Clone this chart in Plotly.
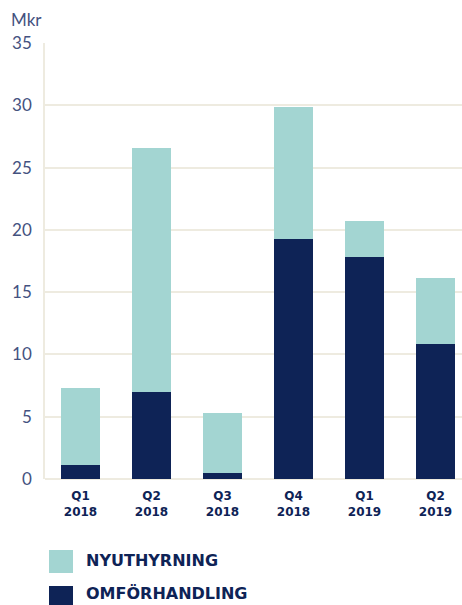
import plotly.graph_objects as go

quarters = ["Q1<br>2018", "Q2<br>2018", "Q3<br>2018", "Q4<br>2018", "Q1<br>2019", "Q2<br>2019"]
omforhandling = [1.1, 7.0, 0.5, 19.3, 17.8, 10.8]
totals = [7.3, 26.6, 5.3, 29.9, 20.7, 16.1]
nyuthyrning = [round(t - o, 2) for t, o in zip(totals, omforhandling)]

series_names = ["NYUTHYRNING", "OMFÖRHANDLING"]
c_teal = "#a3d5d2"
c_navy = "#0e2356"
c_tick = "#44527f"
c_grid = "#eeebe0"

W, H = 462, 605
L, R, T, B = 45, 0, 43, 126
PW, PH = W - L - R, H - T - B

def px_x(x):
    return (x - L) / PW

def px_y(y):
    return (H - B - y) / PH

fig = go.Figure()
fig.add_bar(x=quarters, y=omforhandling, name=series_names[1], marker_color=c_navy,
            marker_line_width=0, width=0.55, showlegend=False)
fig.add_bar(x=quarters, y=nyuthyrning, name=series_names[0], marker_color=c_teal,
            marker_line_width=0, width=0.55, showlegend=False)

fig.update_layout(
    barmode="stack",
    width=W, height=H,
    margin=dict(l=L, r=R, t=T, b=B),
    paper_bgcolor="white", plot_bgcolor="white",
    showlegend=False,
    xaxis=dict(
        range=[-0.5, -0.5 + PW / 71.0],
        showgrid=False, zeroline=False, showline=False,
        tickfont=dict(family="DejaVu Sans", size=12, color=c_navy, weight="bold"),
        ticks="", ticklabelstandoff=8,
    ),
    yaxis=dict(
        range=[0, 35], tickvals=[0, 5, 10, 15, 20, 25, 30, 35],
        showgrid=True, gridcolor=c_grid, gridwidth=1.5,
        zeroline=True, zerolinecolor=c_grid, zerolinewidth=1.5,
        showline=True, linecolor=c_grid, linewidth=1.5,
        tickfont=dict(family="Lato", size=17, color=c_tick),
        ticks="", ticklabelstandoff=8,
    ),
)

fig.add_annotation(text="Mkr", xref="paper", yref="paper", x=px_x(9), y=px_y(19),
                   xanchor="left", yanchor="middle", showarrow=False,
                   font=dict(family="Lato", size=17, color=c_tick))

legend_rows = [(series_names[0], c_teal, 550, 560), (series_names[1], c_navy, 586, 593)]
for name, col, top, tc in legend_rows:
    fig.add_shape(type="rect", xref="paper", yref="paper",
                  x0=px_x(49), x1=px_x(73), y0=px_y(top), y1=px_y(top + 23),
                  fillcolor=col, line_width=0)
    fig.add_annotation(text=name, xref="paper", yref="paper", x=px_x(84), y=px_y(tc),
                       xanchor="left", yanchor="middle", showarrow=False,
                       font=dict(family="DejaVu Sans", size=16, color=c_navy, weight="bold"))

fig.write_html("out.html")
